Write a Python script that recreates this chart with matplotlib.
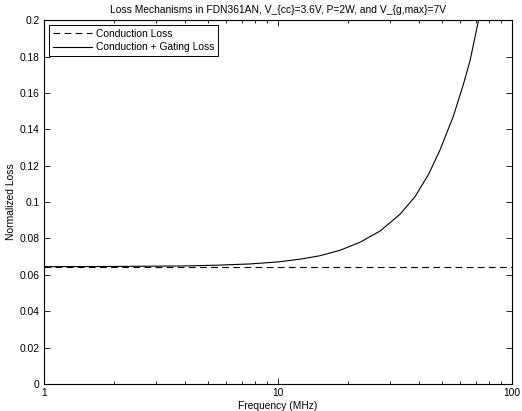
import matplotlib
matplotlib.use("Agg")
import matplotlib.pyplot as plt
from matplotlib.ticker import FixedLocator, LogLocator, NullFormatter

plt.rcParams["font.family"] = ["Liberation Sans", "DejaVu Sans"]

# values
freq_mhz = [1, 2, 4, 5.5, 7.6, 10, 12.4, 15.1, 18.4, 22.4, 27.3, 33.2, 38.5,
            44.0, 49.2, 56.1, 61.9, 66.2, 71.6, 73.5]
gating_loss = [0.0645, 0.0646, 0.0649, 0.0653, 0.066, 0.0671, 0.0686, 0.0705,
               0.0735, 0.0779, 0.0841, 0.0933, 0.1030, 0.1153, 0.1286, 0.1472,
               0.1646, 0.1780, 0.1989, 0.207]
conduction_freq = [1, 100]
conduction_loss = [0.0645, 0.0645]
y_ticks = [0, 0.02, 0.04, 0.06, 0.08, 0.1, 0.12, 0.14, 0.16, 0.18, 0.2]
y_labels = ["0", "0.02", "0.04", "0.06", "0.08", "0.1", "0.12", "0.14", "0.16", "0.18", "0.2"]

FONT_SIZE = 7.4

fig = plt.figure(figsize=(5.22, 4.11), dpi=100)
ax = fig.add_axes([0.0843, 0.0657, 0.8967, 0.8853])

ax.plot(conduction_freq, conduction_loss, color="black", linestyle=(0, (6, 4)),
        linewidth=0.8, label="Conduction Loss")
ax.plot(freq_mhz, gating_loss, color="black", linewidth=0.8,
        label="Conduction + Gating Loss")

ax.set_xscale("log")
ax.set_xlim(1, 100)
ax.set_ylim(0, 0.2)
ax.set_xticks([1, 10, 100], ["1", "10", "100"])
ax.xaxis.set_minor_locator(LogLocator(base=10, subs=range(2, 10)))
ax.xaxis.set_minor_formatter(NullFormatter())
ax.yaxis.set_major_locator(FixedLocator(y_ticks))
ax.set_yticklabels(y_labels)

ax.tick_params(which="both", direction="in", top=True, right=True,
               labelsize=FONT_SIZE, width=0.6)
ax.tick_params(which="major", length=4, pad=3)
ax.tick_params(which="minor", length=2)
for spine in ax.spines.values():
    spine.set_linewidth(0.8)

ax.set_title("Loss Mechanisms in FDN361AN, V_{cc}=3.6V, P=2W, and V_{g,max}=7V",
             fontsize=FONT_SIZE, pad=5)
ax.set_xlabel("Frequency (MHz)", fontsize=FONT_SIZE, labelpad=2)
ax.set_ylabel("Normalized Loss", fontsize=FONT_SIZE, labelpad=3)

legend = ax.legend(loc="upper left", fontsize=FONT_SIZE, frameon=True, fancybox=False,
                   edgecolor="black", framealpha=1, borderpad=0.35,
                   labelspacing=0.35, handlelength=3.8, handletextpad=0.4,
                   borderaxespad=0.5)
legend.get_frame().set_linewidth(0.7)

fig.savefig("out.png", dpi=100, facecolor="white")
